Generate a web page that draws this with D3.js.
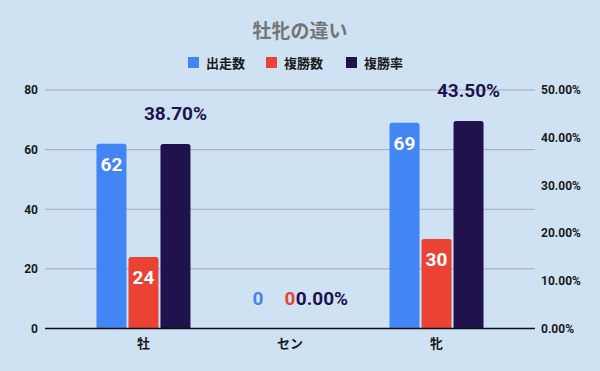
<!DOCTYPE html>
<html><head><meta charset="utf-8">
<script src="https://cdn.jsdelivr.net/npm/d3@7"></script>
<style>
html,body{margin:0;padding:0;background:#cfe2f3;}
svg{display:block;font-family:Roboto,"Noto Sans CJK JP",sans-serif;}
</style></head>
<body><svg id="c" width="600" height="371"></svg>
<script>
const title = "牡牝の違い";
const categories = ["牡", "セン", "牝"];
const seriesNames = ["出走数", "複勝数", "複勝率"];
const starts = [62, 0, 69];
const places = [24, 0, 30];
const placeRates = [0.387, 0.0, 0.435];
const leftTicks = [0, 20, 40, 60, 80];
const rightTicks = [0, 0.1, 0.2, 0.3, 0.4, 0.5];
const colors = ["#4285f4", "#ea4335", "#20124d"];

(function () {
const svg = d3.select("#c");
const W = 600, H = 371;
const pLeft = 45, pRight = 535, pTop = 90, pBottom = 328.5;

svg.append("rect").attr("width", W).attr("height", H).attr("fill", "#cfe2f3");

const x = d3.scalePoint().domain(categories).range([pLeft, pRight]).padding(0.672);
const inner = d3.scaleBand().domain(seriesNames).range([-47, 47]).paddingInner(0.0625).paddingOuter(0);
const yL = d3.scaleLinear().domain([0, 80]).range([pBottom, pTop]);
const yR = d3.scaleLinear().domain([0, 0.5]).range([pBottom, pTop]);

// gridlines
svg.append("g").selectAll("line").data(leftTicks.filter(d => d > 0)).join("line")
  .attr("x1", pLeft).attr("x2", pRight)
  .attr("y1", d => yL(d)).attr("y2", d => yL(d))
  .attr("stroke", "#9eabbb").attr("stroke-width", 1);

// left axis
const axL = svg.append("g").attr("transform", `translate(${pLeft},0)`)
  .call(d3.axisLeft(yL).tickValues(leftTicks).tickSize(0).tickPadding(7));
axL.select(".domain").remove();
axL.selectAll("text").attr("font-size", 12).attr("font-weight", "bold").attr("fill", "#1a1a1a")
  .attr("font-family", "Roboto");

// right axis
const axR = svg.append("g").attr("transform", `translate(${pRight},0)`)
  .call(d3.axisRight(yR).tickValues(rightTicks).tickFormat(d3.format(".2%")).tickSize(0).tickPadding(6));
axR.select(".domain").remove();
axR.selectAll("text").attr("font-size", 12).attr("font-weight", "bold").attr("fill", "#1a1a1a")
  .attr("font-family", "Roboto");

function topRounded(x0, y0, w, h, r) {
  if (h <= 0) return "";
  r = Math.min(r, h, w / 2);
  return `M${x0},${y0 + h}V${y0 + r}Q${x0},${y0} ${x0 + r},${y0}H${x0 + w - r}Q${x0 + w},${y0} ${x0 + w},${y0 + r}V${y0 + h}Z`;
}

const rows = categories.map((c, i) => [
  {cat: c, s: 0, v: starts[i], y: yL(starts[i]), label: String(starts[i]), inside: starts[i] > 0},
  {cat: c, s: 1, v: places[i], y: yL(places[i]), label: String(places[i]), inside: places[i] > 0},
  {cat: c, s: 2, v: placeRates[i], y: yR(placeRates[i]), label: d3.format(".2%")(placeRates[i]), inside: false}
]).flat();

const bw = inner.bandwidth();
svg.append("g").selectAll("path").data(rows).join("path")
  .attr("d", d => topRounded(x(d.cat) + inner(seriesNames[d.s]), d.y, bw, pBottom - d.y, 2.5))
  .attr("fill", d => colors[d.s]);

// baseline
svg.append("line").attr("x1", pLeft).attr("x2", pRight).attr("y1", pBottom).attr("y2", pBottom)
  .attr("stroke", "#111").attr("stroke-width", 1.3);

// labels
svg.append("g").selectAll("text").data(rows).join("text")
  .attr("x", d => x(d.cat) + inner(seriesNames[d.s]) + bw / 2)
  .attr("y", d => d.inside ? d.y + 27 : d.y - 24)
  .attr("text-anchor", "middle")
  .attr("font-family", "Roboto")
  .attr("font-size", 19).attr("font-weight", "bold")
  .attr("fill", d => d.inside ? "#ffffff" : colors[d.s])
  .text(d => d.label);

// category labels
svg.append("g").selectAll("text").data(categories).join("text")
  .attr("x", d => x(d)).attr("y", 348)
  .attr("text-anchor", "middle").attr("font-size", 13).attr("font-weight", "bold")
  .attr("fill", "#1a1a1a").attr("font-family", "'Noto Sans CJK JP'")
  .text(d => d);

// title
svg.append("text").attr("x", 300).attr("y", 38).attr("text-anchor", "middle")
  .attr("font-size", 19).attr("font-weight", "bold").attr("fill", "#757575")
  .attr("font-family", "'Noto Sans CJK JP'").text(title);

// legend
const legX = [188, 266, 346];
const lg = svg.append("g").selectAll("g").data(seriesNames).join("g")
  .attr("transform", (d, i) => `translate(${legX[i]},57)`);
lg.append("rect").attr("width", 11).attr("height", 11).attr("fill", (d, i) => colors[i]);
lg.append("text").attr("x", 18).attr("y", 10.5).attr("font-size", 13).attr("font-weight", "bold")
  .attr("fill", "#1a1a1a").attr("font-family", "'Noto Sans CJK JP'").text(d => d);
})();
</script>
</body></html>
